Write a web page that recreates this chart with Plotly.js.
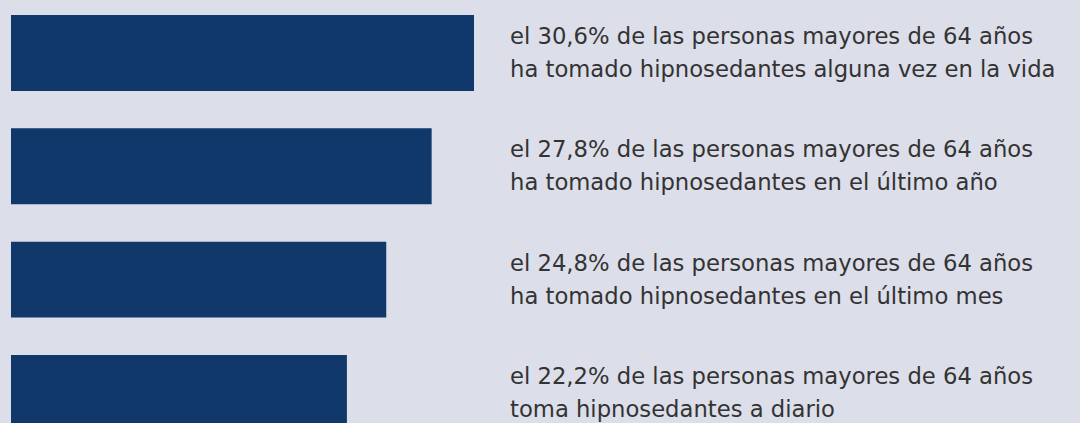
<!DOCTYPE html>
<html>
<head>
<meta charset="utf-8">
<script src="https://cdn.plot.ly/plotly-3.0.1.min.js"></script>
<style>
html,body{margin:0;padding:0;background:#dcdeea;}
#chart{width:1080px;height:423px;}
</style>
</head>
<body>
<div id="chart"></div>
<script>
// Data
const categories = ["alguna vez en la vida", "último año", "último mes", "a diario"];
const values = [30.6, 27.8, 24.8, 22.2];
const labelLine1 = [
  "el 30,6% de las personas mayores de 64 años",
  "el 27,8% de las personas mayores de 64 años",
  "el 24,8% de las personas mayores de 64 años",
  "el 22,2% de las personas mayores de 64 años"
];
const labelLine2 = [
  "ha tomado hipnosedantes alguna vez en la vida",
  "ha tomado hipnosedantes en el último año",
  "ha tomado hipnosedantes en el último mes",
  "toma hipnosedantes a diario"
];

const trace = {
  type: "bar",
  orientation: "h",
  y: categories,
  x: values,
  marker: {color: "#10386b"},
  width: 0.67,
  hoverinfo: "skip"
};

const font = {family: "DejaVu Sans", size: 22.7, color: "#333333"};
const annotations = [];
categories.forEach((c, i) => {
  annotations.push({x: 0.4649, xref: "paper", y: c, yref: "y", text: labelLine1[i],
    showarrow: false, xanchor: "left", yanchor: "middle", yshift: 17, font: font});
  annotations.push({x: 0.4649, xref: "paper", y: c, yref: "y", text: labelLine2[i],
    showarrow: false, xanchor: "left", yanchor: "middle", yshift: -16, font: font});
});

const layout = {
  width: 1080, height: 423,
  margin: {l: 11, r: 0, t: 0, b: 0},
  paper_bgcolor: "#dcdeea",
  plot_bgcolor: "#dcdeea",
  showlegend: false,
  xaxis: {range: [0, 70.65], visible: false, fixedrange: true},
  yaxis: {type: "category", range: [3.266, -0.468], visible: false, fixedrange: true},
  annotations: annotations
};

Plotly.newPlot("chart", [trace], layout, {displayModeBar: false, staticPlot: true});
</script>
</body>
</html>
